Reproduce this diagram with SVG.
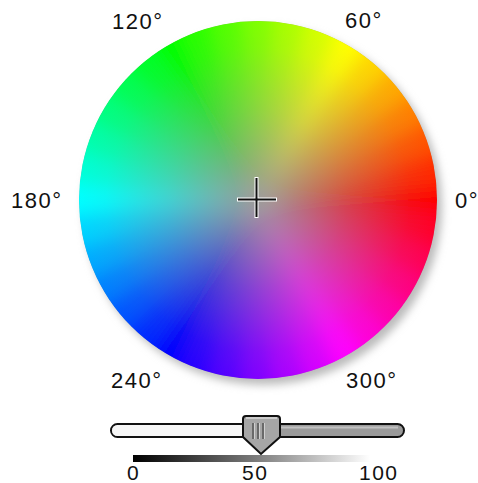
<svg xmlns="http://www.w3.org/2000/svg" width="478" height="483" viewBox="0 0 478 483">
<style>
.lbl{font-family:"Liberation Sans",Arial,sans-serif;font-size:22px;letter-spacing:1.5px;fill:#111;}
.num{font-family:"Liberation Sans",Arial,sans-serif;font-size:21px;letter-spacing:1.5px;fill:#111;}
.w path{stroke-width:1.2}
</style>
<defs>
<clipPath id="disc"><circle cx="258" cy="200" r="179"/></clipPath>
<filter id="blur" x="-20%" y="-20%" width="140%" height="140%"><feGaussianBlur stdDeviation="9"/></filter>
<filter id="sblur" x="-20%" y="-20%" width="140%" height="140%"><feGaussianBlur stdDeviation="4"/></filter>
<radialGradient id="grey" cx="258" cy="200" r="179" gradientUnits="userSpaceOnUse">
<stop offset="0" stop-color="#9c9a98" stop-opacity="0.95"/>
<stop offset="0.15" stop-color="#9c9a98" stop-opacity="0.82"/>
<stop offset="0.5" stop-color="#9c9a98" stop-opacity="0.42"/>
<stop offset="0.85" stop-color="#9c9a98" stop-opacity="0.08"/>
<stop offset="1" stop-color="#9c9a98" stop-opacity="0"/>
</radialGradient>
<linearGradient id="bar" x1="0" y1="0" x2="1" y2="0">
<stop offset="0" stop-color="#000"/>
<stop offset="0.5" stop-color="#777"/>
<stop offset="1" stop-color="#fff"/>
</linearGradient>
</defs>
<rect width="478" height="483" fill="#fff"/>
<g id="shadow"><circle cx="263" cy="206" r="179" fill="#bbb" filter="url(#sblur)"/></g>
<g id="wheel" clip-path="url(#disc)">
<circle cx="258" cy="200" r="179" fill="#999"/>
<g class="w" filter="url(#blur)">
<path d="M258,200 L457.2,217.4 L457.2,182.6Z" fill="hsl(0,100%,50%)" stroke="hsl(0,100%,50%)"/>
<path d="M258,200 L457.2,182.6 L451.2,148.2Z" fill="hsl(10,100%,50%)" stroke="hsl(10,100%,50%)"/>
<path d="M258,200 L451.2,148.2 L439.3,115.5Z" fill="hsl(20,100%,50%)" stroke="hsl(20,100%,50%)"/>
<path d="M258,200 L439.3,115.5 L421.8,85.3Z" fill="hsl(30,100%,50%)" stroke="hsl(30,100%,50%)"/>
<path d="M258,200 L421.8,85.3 L399.4,58.6Z" fill="hsl(40,100%,50%)" stroke="hsl(40,100%,50%)"/>
<path d="M258,200 L399.4,58.6 L372.7,36.2Z" fill="hsl(50,100%,50%)" stroke="hsl(50,100%,50%)"/>
<path d="M258,200 L372.7,36.2 L342.5,18.7Z" fill="hsl(60,100%,50%)" stroke="hsl(60,100%,50%)"/>
<path d="M258,200 L342.5,18.7 L309.8,6.8Z" fill="hsl(70,100%,50%)" stroke="hsl(70,100%,50%)"/>
<path d="M258,200 L309.8,6.8 L275.4,0.8Z" fill="hsl(80,100%,50%)" stroke="hsl(80,100%,50%)"/>
<path d="M258,200 L275.4,0.8 L240.6,0.8Z" fill="hsl(90,100%,50%)" stroke="hsl(90,100%,50%)"/>
<path d="M258,200 L240.6,0.8 L206.2,6.8Z" fill="hsl(100,100%,50%)" stroke="hsl(100,100%,50%)"/>
<path d="M258,200 L206.2,6.8 L173.5,18.7Z" fill="hsl(110,100%,50%)" stroke="hsl(110,100%,50%)"/>
<path d="M258,200 L173.5,18.7 L143.3,36.2Z" fill="hsl(120,100%,50%)" stroke="hsl(120,100%,50%)"/>
<path d="M258,200 L143.3,36.2 L116.6,58.6Z" fill="hsl(130,100%,50%)" stroke="hsl(130,100%,50%)"/>
<path d="M258,200 L116.6,58.6 L94.2,85.3Z" fill="hsl(140,100%,50%)" stroke="hsl(140,100%,50%)"/>
<path d="M258,200 L94.2,85.3 L76.7,115.5Z" fill="hsl(150,100%,50%)" stroke="hsl(150,100%,50%)"/>
<path d="M258,200 L76.7,115.5 L64.8,148.2Z" fill="hsl(160,100%,50%)" stroke="hsl(160,100%,50%)"/>
<path d="M258,200 L64.8,148.2 L58.8,182.6Z" fill="hsl(170,100%,50%)" stroke="hsl(170,100%,50%)"/>
<path d="M258,200 L58.8,182.6 L58.8,217.4Z" fill="hsl(180,100%,50%)" stroke="hsl(180,100%,50%)"/>
<path d="M258,200 L58.8,217.4 L64.8,251.8Z" fill="hsl(190,100%,50%)" stroke="hsl(190,100%,50%)"/>
<path d="M258,200 L64.8,251.8 L76.7,284.5Z" fill="hsl(200,100%,50%)" stroke="hsl(200,100%,50%)"/>
<path d="M258,200 L76.7,284.5 L94.2,314.7Z" fill="hsl(210,100%,50%)" stroke="hsl(210,100%,50%)"/>
<path d="M258,200 L94.2,314.7 L116.6,341.4Z" fill="hsl(220,100%,50%)" stroke="hsl(220,100%,50%)"/>
<path d="M258,200 L116.6,341.4 L143.3,363.8Z" fill="hsl(230,100%,50%)" stroke="hsl(230,100%,50%)"/>
<path d="M258,200 L143.3,363.8 L173.5,381.3Z" fill="hsl(240,100%,50%)" stroke="hsl(240,100%,50%)"/>
<path d="M258,200 L173.5,381.3 L206.2,393.2Z" fill="hsl(250,100%,50%)" stroke="hsl(250,100%,50%)"/>
<path d="M258,200 L206.2,393.2 L240.6,399.2Z" fill="hsl(260,100%,50%)" stroke="hsl(260,100%,50%)"/>
<path d="M258,200 L240.6,399.2 L275.4,399.2Z" fill="hsl(270,100%,50%)" stroke="hsl(270,100%,50%)"/>
<path d="M258,200 L275.4,399.2 L309.8,393.2Z" fill="hsl(280,100%,50%)" stroke="hsl(280,100%,50%)"/>
<path d="M258,200 L309.8,393.2 L342.5,381.3Z" fill="hsl(290,100%,50%)" stroke="hsl(290,100%,50%)"/>
<path d="M258,200 L342.5,381.3 L372.7,363.8Z" fill="hsl(300,100%,50%)" stroke="hsl(300,100%,50%)"/>
<path d="M258,200 L372.7,363.8 L399.4,341.4Z" fill="hsl(310,100%,50%)" stroke="hsl(310,100%,50%)"/>
<path d="M258,200 L399.4,341.4 L421.8,314.7Z" fill="hsl(320,100%,50%)" stroke="hsl(320,100%,50%)"/>
<path d="M258,200 L421.8,314.7 L439.3,284.5Z" fill="hsl(330,100%,50%)" stroke="hsl(330,100%,50%)"/>
<path d="M258,200 L439.3,284.5 L451.2,251.8Z" fill="hsl(340,100%,50%)" stroke="hsl(340,100%,50%)"/>
<path d="M258,200 L451.2,251.8 L457.2,217.4Z" fill="hsl(350,100%,50%)" stroke="hsl(350,100%,50%)"/>
</g>
<circle cx="258" cy="200" r="179" fill="url(#grey)"/>
</g>
<g id="crosshair">
<path d="M256.5,177 V218 M237,199.5 H277" stroke="#fff" stroke-width="4"/>
<path d="M256.5,178 V217 M238,199.5 H276" stroke="#111" stroke-width="2"/>
</g>
<g id="labels">
<text class="lbl" x="112" y="29">120°</text>
<text class="lbl" x="345" y="28">60°</text>
<text class="lbl" x="11" y="208">180°</text>
<text class="lbl" x="455" y="208">0°</text>
<text class="lbl" x="111" y="388">240°</text>
<text class="lbl" x="346" y="388">300°</text>
</g>
<g id="slider">
<rect x="133" y="455" width="237" height="7" fill="url(#bar)"/>
<rect x="111" y="424" width="293" height="13" rx="6.5" fill="#9a9a9a" stroke="#111" stroke-width="2"/>
<path d="M117.5,425 H250 V436 H117.5 A5.5,5.5 0 0 1 117.5,425Z" fill="#f6f6f6"/>
<path d="M260,427.5 H398" stroke="#c0c0c0" stroke-width="2"/>
<path d="M246,416 H277 Q280,416 280,419 V437 L261,454 L243,437 V419 Q243,416 246,416Z" fill="#a6a6a6" stroke="#111" stroke-width="2"/>
<path d="M246,418 H277" stroke="#d8d8d8" stroke-width="1.5"/>
<path d="M253,423 V439 M258,423 V439 M263,423 V439" stroke="#555" stroke-width="1.5"/>
<path d="M254.5,423 V439 M259.5,423 V439 M264.5,423 V439" stroke="#d0d0d0" stroke-width="1"/>
<text class="num" x="127" y="480">0</text>
<text class="num" x="242" y="480">50</text>
<text class="num" x="359" y="480">100</text>
</g>
</svg>
